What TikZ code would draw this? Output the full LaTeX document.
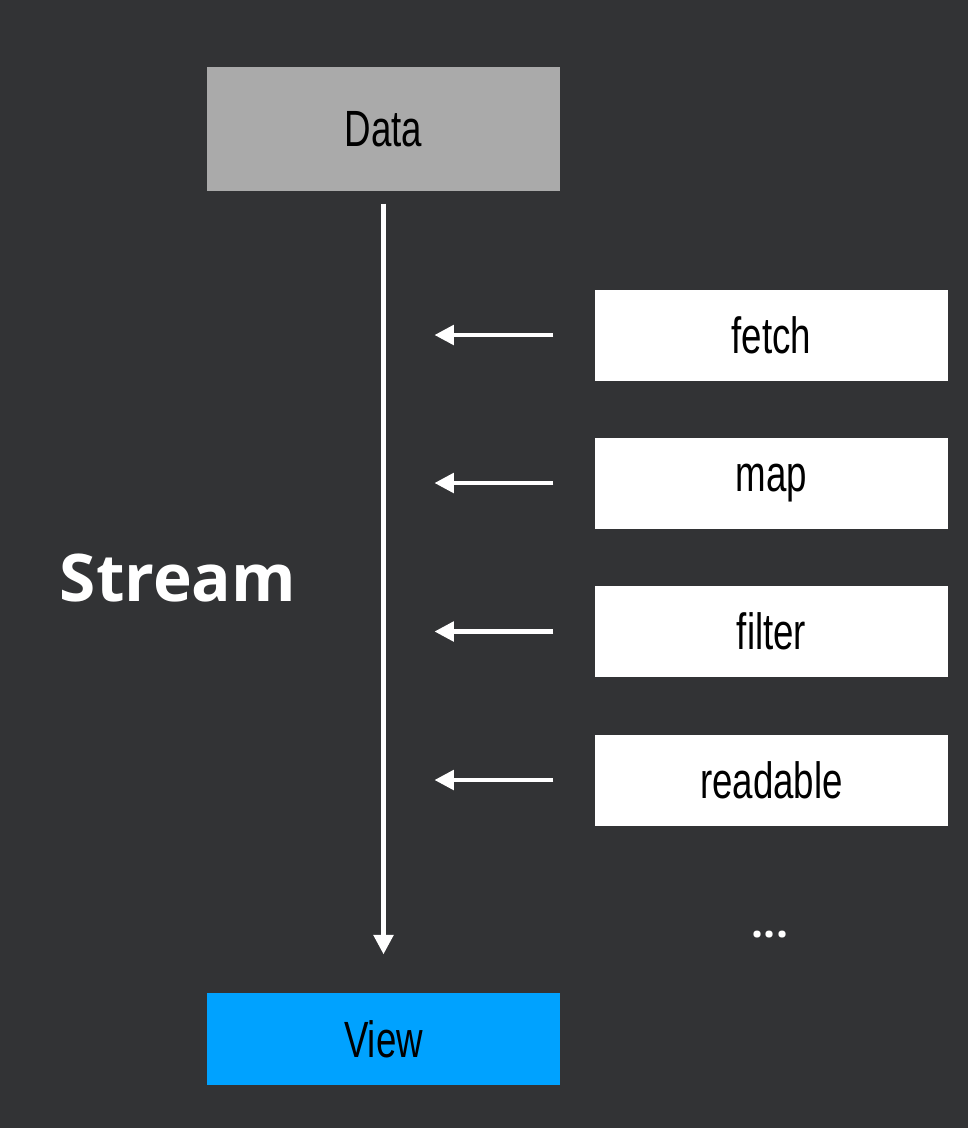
\documentclass[tikz,border=0pt]{standalone}
\usepackage{fontspec}
\usepackage{tikz}
\usetikzlibrary{arrows.meta, positioning, calc}
\newfontfamily\handfont{Liberation Sans}[FakeStretch=0.72]
\newfontfamily\streamfont{Open Sans}
\definecolor{sfondo}{RGB}{50,51,53}
\definecolor{datagrey}{RGB}{170,170,170}
\definecolor{viewblue}{RGB}{0,162,255}

\begin{document}
\begin{tikzpicture}[
    box/.style={rectangle,minimum width=3.53cm,inner sep=0pt,font=\handfont\fontsize{14.5}{16}\selectfont,text=black},
    opbox/.style={box,fill=white,minimum height=0.91cm},
    flow/.style={draw=white,line width=1.2pt,-{Triangle[length=5.5pt,width=5.5pt]}}
  ]
    \fill[sfondo] (0,0) rectangle (9.68,-11.28);
    \useasboundingbox (0,0) rectangle (9.68,-11.28);

    % Sorgente e vista
    \node[box,fill=datagrey,minimum height=1.24cm] (data) at (3.835,-1.29) {Data};
    \node[box,fill=viewblue,minimum height=0.92cm] (view) at (3.835,-10.39) {View};

    \draw[flow,shorten <=0.12cm,shorten >=0.38cm] (data) -- (view);

    % Operatori
    \node[opbox] (fetch) at (7.715,-3.35) {fetch};
    \node[opbox] (map) at (7.715,-4.83) {map};
    \node[opbox] (filter) at (7.715,-6.315) {filter};
    \node[opbox] (readable) at (7.715,-7.80) {readable};
    \node[text=white,font=\streamfont\bfseries\fontsize{12}{14}\selectfont] (more) at (7.70,-9.35) {...};

    \foreach \op in {fetch,map,filter,readable}
        \draw[flow,shorten <=0.41cm,shorten >=0.51cm] (\op.west) -- (\op.west -| data);

    % Etichetta
    \node[text=white,font=\streamfont\bfseries\fontsize{18.7}{22}\selectfont] (stream) at (1.78,-5.78) {Stream};
\end{tikzpicture}
\end{document}
